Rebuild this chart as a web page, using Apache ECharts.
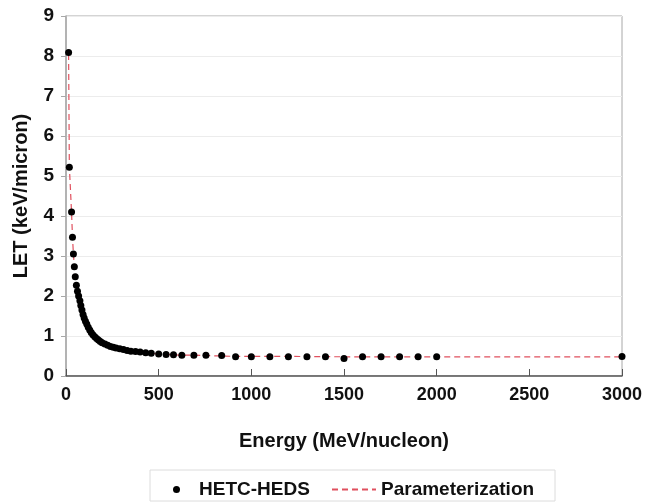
<!DOCTYPE html>
<html>
<head>
<meta charset="utf-8">
<script src="https://cdn.jsdelivr.net/npm/echarts@6/dist/echarts.min.js"></script>
<style>
html,body{margin:0;padding:0;background:#fff;}
#main{width:647px;height:502px;}
</style>
</head>
<body>
<div id="main"></div>
<script>
var chart = echarts.init(document.getElementById('main'));

// energy (MeV/nucleon) and LET (keV/micron)
var energy = [14, 18, 30, 35, 40, 45, 50, 56, 62, 68, 75, 80, 86, 92, 98, 105, 112, 120, 128, 136,
  145, 155, 165, 175, 185, 195, 210, 225, 240, 255, 270, 290, 310, 330, 350, 375, 400, 430, 460, 500,
  540, 580, 625, 690, 755, 840, 915, 1000, 1100, 1200, 1300, 1400, 1500, 1600, 1700, 1800, 1900, 2000, 3000];
var hetcLET = [8.09, 5.22, 4.10, 3.47, 3.05, 2.73, 2.48, 2.27, 2.12, 2.00, 1.88, 1.76, 1.65, 1.54, 1.45, 1.37, 1.30, 1.22, 1.15, 1.09,
  1.03, 0.98, 0.94, 0.90, 0.86, 0.83, 0.80, 0.77, 0.74, 0.72, 0.70, 0.68, 0.66, 0.64, 0.62, 0.61, 0.60, 0.58, 0.57, 0.55,
  0.54, 0.53, 0.52, 0.52, 0.52, 0.51, 0.48, 0.48, 0.48, 0.48, 0.48, 0.48, 0.44, 0.48, 0.48, 0.48, 0.48, 0.48, 0.49];
// parameterization curve
var paramE = [14, 18, 30, 35, 40, 45, 50, 56, 62, 68, 75, 80, 86, 92, 98, 105, 112, 120, 128, 136,
  145, 155, 165, 175, 185, 195, 210, 225, 240, 255, 270, 290, 310, 330, 350, 375, 400, 430, 460, 500,
  540, 580, 625, 690, 755, 840, 915, 1000, 1200, 1500, 2000, 3000];
var paramLET = [8.05, 5.25, 4.08, 3.48, 3.05, 2.74, 2.49, 2.27, 2.11, 1.99, 1.87, 1.76, 1.65, 1.55, 1.46, 1.37, 1.30, 1.22, 1.15, 1.09,
  1.03, 0.98, 0.94, 0.90, 0.86, 0.83, 0.80, 0.77, 0.74, 0.72, 0.70, 0.68, 0.66, 0.64, 0.62, 0.61, 0.60, 0.58, 0.57, 0.55,
  0.54, 0.53, 0.52, 0.52, 0.51, 0.50, 0.49, 0.49, 0.49, 0.48, 0.48, 0.48];

var font = '"Liberation Sans", Arial, sans-serif';

var option = {
  backgroundColor: '#fff',
  animation: false,
  grid: {left: 66, right: 25, top: 16, bottom: 126, show: true, borderColor: '#a8a8a8', borderWidth: 1},
  xAxis: {
    type: 'value', min: 0, max: 3000, interval: 500,
    name: 'Energy (MeV/nucleon)', nameLocation: 'middle', nameGap: 55,
    nameTextStyle: {fontFamily: font, fontWeight: 'bold', fontSize: 20, color: '#111'},
    axisLine: {show: true, lineStyle: {color: '#555', width: 1.5}},
    axisTick: {show: true, inside: true, length: 7, lineStyle: {color: '#555'}},
    axisLabel: {fontFamily: font, fontWeight: 'bold', fontSize: 18, color: '#111', margin: 10,
      formatter: function (v) { return String(v); }},
    splitLine: {show: false}
  },
  yAxis: {
    type: 'value', min: 0, max: 9, interval: 1,
    name: 'LET (keV/micron)', nameLocation: 'middle', nameGap: 35, nameRotate: 90,
    nameTextStyle: {fontFamily: font, fontWeight: 'bold', fontSize: 20, color: '#111'},
    axisLine: {show: true, lineStyle: {color: '#a8a8a8', width: 1.5}},
    axisTick: {show: true, inside: false, length: 5, lineStyle: {color: '#a8a8a8'}},
    axisLabel: {fontFamily: font, fontWeight: 'bold', fontSize: 19, color: '#111', margin: 12},
    splitLine: {show: true, lineStyle: {color: '#ececec', width: 1}}
  },
  legend: [{
    data: ['HETC-HEDS'], left: 168, top: 475, itemWidth: 7, itemHeight: 7, icon: 'circle',
    textStyle: {fontFamily: font, fontWeight: 'bold', fontSize: 19, color: '#111', padding: [0, 0, 0, 14]}
  }, {
    data: ['Parameterization'], left: 326, top: 475, itemWidth: 44, itemHeight: 2, itemGap: 4,
    textStyle: {fontFamily: font, fontWeight: 'bold', fontSize: 19, color: '#111'}
  }],
  graphic: [{
    type: 'rect', shape: {x: 150, y: 470, width: 405, height: 31},
    style: {fill: 'none', stroke: '#dcdcdc', lineWidth: 1}
  }],
  series: [{
    name: 'Parameterization', type: 'line', symbol: 'none', z: 1,
    data: paramE.map(function (e, i) { return [e, paramLET[i]]; }),
    lineStyle: {color: '#e0505e', width: 1.2, type: [6, 4]},
    itemStyle: {color: '#e0505e'}
  }, {
    name: 'HETC-HEDS', type: 'scatter', symbol: 'circle', symbolSize: 7, z: 3,
    data: energy.map(function (e, i) { return [e, hetcLET[i]]; }),
    itemStyle: {color: '#000', opacity: 1}
  }]
};
chart.setOption(option);
</script>
</body>
</html>
